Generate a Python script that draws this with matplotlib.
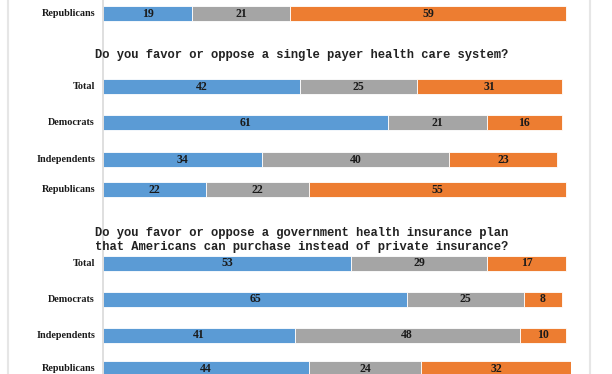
import matplotlib.pyplot as plt
from matplotlib.lines import Line2D

# ── Data ──────────────────────────────────────────────────────────────────────
groups = ["Republicans",
          "Total", "Democrats", "Independents", "Republicans",
          "Total", "Democrats", "Independents", "Republicans"]
favor   = [19, 42, 61, 34, 22, 53, 65, 41, 44]
neither = [21, 25, 21, 40, 22, 29, 25, 48, 24]
oppose  = [59, 31, 16, 23, 55, 17, 8, 10, 32]

titles = ["Do you favor or oppose a single payer health care system?",
          "Do you favor or oppose a government health insurance plan\n"
          "that Americans can purchase instead of private insurance?"]

# ── Layout (pixel rows of the 612x374 canvas) ────────────────────────────────
row_y   = [13, 86, 122, 159, 189, 263, 299, 335, 368]
title_y = [55, 240]
colors  = ["#5B9BD5", "#A5A5A5", "#ED7D31"]

fig = plt.figure(figsize=(6.12, 3.74), dpi=100)
ax = fig.add_axes([103 / 612, 0, 468 / 612, 1])
ax.set_xlim(0, 100)
ax.set_ylim(374, 0)

left = [0] * len(groups)
for vals, col in zip([favor, neither, oppose], colors):
    ax.barh(row_y, vals, left=left, height=15, color=col,
            edgecolor="white", linewidth=0.6)
    for y, l, v in zip(row_y, left, vals):
        ax.text(l + v / 2, y + 0.5, str(v), ha="center", va="center",
                fontsize=8.5, fontweight="bold", family="Liberation Serif",
                color="#1a1a1a")
    left = [a + b for a, b in zip(left, vals)]

for y, g in zip(row_y, groups):
    ax.text(-1.7, y + 0.5, g, ha="right", va="center", fontsize=7.3,
            fontweight="bold", family="Liberation Serif", color="#1a1a1a")

for y, t in zip(title_y, titles):
    ax.text(-1.7, y, t, ha="left", va="center", fontsize=8.7,
            fontweight="bold", family="Liberation Mono", linespacing=1.3,
            color="#222222")

for s in ["top", "right", "bottom"]:
    ax.spines[s].set_visible(False)
ax.spines["left"].set_color("#D9D9D9")
ax.spines["left"].set_linewidth(1.2)
ax.set_xticks([])
ax.set_yticks([])
ax.patch.set_alpha(0)

# light frame of the original chart area
for x in [8 / 612, 590 / 612]:
    fig.add_artist(Line2D([x, x], [0, 1], color="#E6E6E6", linewidth=1.5))

fig.savefig("out.png", dpi=100)
